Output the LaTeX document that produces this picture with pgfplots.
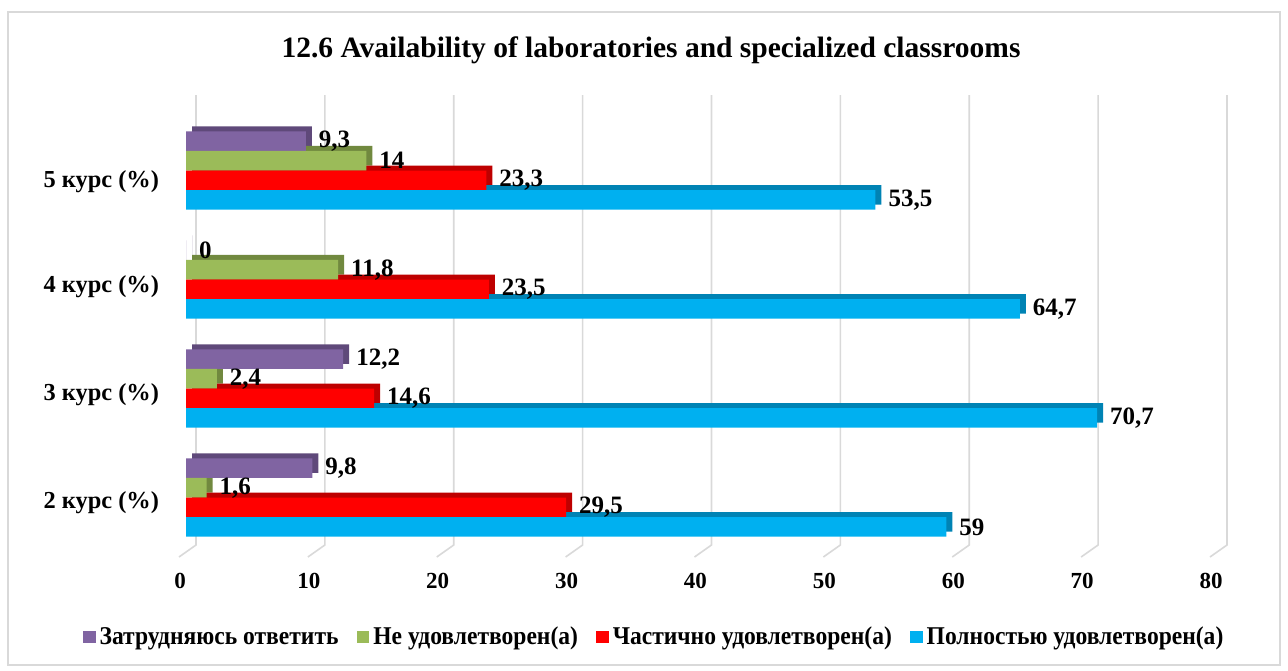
\documentclass[border=0pt]{standalone}
\usepackage{fontspec}
\setmainfont{Liberation Serif}
\newfontfamily\narrowserif{Liberation Serif}[FakeStretch=0.92]
\usepackage{pgfplots}
\usepackage{pgfplotstable}
\pgfplotsset{compat=1.18}

\definecolor{cPurple}{HTML}{8064A2}
\definecolor{cPurpleD}{HTML}{5F497A}
\definecolor{cGreen}{HTML}{9BBB59}
\definecolor{cGreenD}{HTML}{71893F}
\definecolor{cRed}{HTML}{FF0000}
\definecolor{cRedD}{HTML}{BE0000}
\definecolor{cBlue}{HTML}{00B0F0}
\definecolor{cBlueD}{HTML}{0083B4}
\definecolor{gridGray}{HTML}{D9D9D9}

% cat: 0 = 2 курс ... 3 = 5 курс
\pgfplotstableread{
cat purple green red  blue
0   9.8    1.6   29.5 59
1   12.2   2.4   14.6 70.7
2   0      11.8  23.5 64.7
3   9.3    14    23.3 53.5
}\datatable

\begin{document}
\begin{tikzpicture}
\useasboundingbox (0,0) rectangle (644pt,335pt);
\draw[gridGray, line width=0.7pt] (4pt,2.5pt) rectangle (640pt,329pt);
\node[font=\bfseries\fontsize{14.75}{17}\selectfont] at (325.5pt,310pt)
  {12.6 Availability of laboratories and specialized classrooms};
\begin{axis}[
  at={(93pt,59pt)}, anchor=south west,
  scale only axis, width=515.5pt, height=218pt,
  xmin=0, xmax=80, ymin=-0.5, ymax=3.5,
  clip=false,
  xtick={0,10,...,80}, ytick={-0.03,0.963,1.954,2.917},
  yticklabels={2 курс (\%),3 курс (\%),4 курс (\%),5 курс (\%)},
  axis line style={draw=none}, major tick length=0pt,
  /pgf/number format/.cd, use comma, assume math mode=true, /pgfplots/.cd,
  xticklabel style={font=\bfseries\fontsize{11.5}{13}\selectfont, xshift=-3pt, yshift=-7pt},
  yticklabel style={font=\bfseries\fontsize{12.2}{14}\selectfont, xshift=-10pt, yshift=-1pt},
  xbar, bar width=0.18,
  nodes near coords,
  every node near coord/.append style={font=\bfseries\fontsize{12.5}{14}\selectfont,
    anchor=west, xshift=3pt, text=black},
  legend columns=4,
  legend style={at={(0.455,-0.195)}, anchor=center, draw=none, fill=none,
    font=\narrowserif\bfseries\fontsize{12.8}{15}\selectfont,
    /tikz/every even column/.append style={column sep=7pt}},
  legend image code/.code={\fill[#1,draw=none] (0pt,-3.2pt) rectangle (6.4pt,3.2pt);},
]
% back wall grid and floor lines
\pgfplotsinvokeforeach{0,10,...,80}{
  \draw[gridGray, line width=0.8pt]
    ([shift={(-3.5pt,-2.5pt)}]axis cs:#1,-0.5) --
    ([shift={(5pt,3.5pt)}]axis cs:#1,-0.5) --
    ([shift={(5pt,10.5pt)}]axis cs:#1,3.5);
}
% depth faces
\addplot[fill=cPurpleD, draw=none, bar shift=0.27, xshift=3pt, yshift=2.5pt, forget plot, nodes near coords={}]
  table[x=purple, y=cat]{\datatable};
\addplot[fill=cGreenD, draw=none, bar shift=0.09, xshift=3pt, yshift=2.5pt, forget plot, nodes near coords={}]
  table[x=green, y=cat]{\datatable};
\addplot[fill=cRedD, draw=none, bar shift=-0.09, xshift=3pt, yshift=2.5pt, forget plot, nodes near coords={}]
  table[x=red, y=cat]{\datatable};
\addplot[fill=cBlueD, draw=none, bar shift=-0.27, xshift=3pt, yshift=2.5pt, forget plot, nodes near coords={}]
  table[x=blue, y=cat]{\datatable};
% front faces
\addplot[fill=cPurple, draw=none, bar shift=0.27] table[x=purple, y=cat]{\datatable};
\addlegendentry{Затрудняюсь ответить}
\addplot[fill=cGreen, draw=none, bar shift=0.09] table[x=green, y=cat]{\datatable};
\addlegendentry{Не удовлетворен(а)}
\addplot[fill=cRed, draw=none, bar shift=-0.09] table[x=red, y=cat]{\datatable};
\addlegendentry{Частично удовлетворен(а)}
\addplot[fill=cBlue, draw=none, bar shift=-0.27] table[x=blue, y=cat]{\datatable};
\addlegendentry{Полностью удовлетворен(а)}
\end{axis}
\end{tikzpicture}
\end{document}
